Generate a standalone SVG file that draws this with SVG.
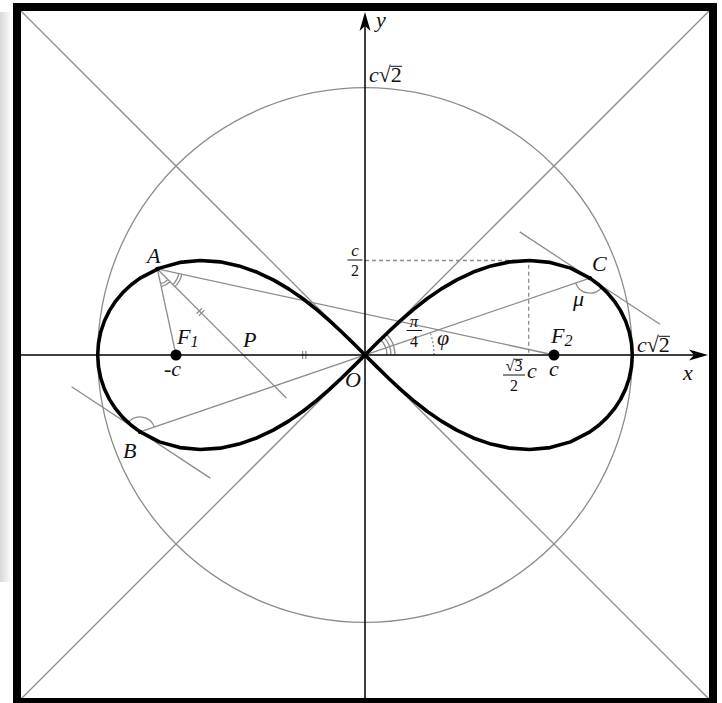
<svg xmlns="http://www.w3.org/2000/svg" width="722" height="703" viewBox="0 0 722 703">
<defs>
<style>
.g{fill:none;stroke:#8c8c8c;stroke-width:1.3}
.k{fill:none;stroke:#000;stroke-width:1.5}
.t{font-family:"Liberation Serif",serif;font-style:italic;font-size:22px;fill:#111}
.s{font-family:"Liberation Serif",serif;font-size:16px;fill:#111}
.m{font-family:"Liberation Serif",serif;font-style:italic;font-size:17px;fill:#111}
.v{stroke:#111;stroke-width:1;fill:none}
</style>
<linearGradient id="sh" x1="0" y1="0" x2="1" y2="0">
<stop offset="0" stop-color="#d8d8d8"/><stop offset="1" stop-color="#ffffff"/>
</linearGradient>
</defs>
<rect width="722" height="703" fill="#fff"/>
<rect x="0" y="12" width="12" height="570" fill="url(#sh)"/>
<g id="guides">
<circle class="g" cx="365" cy="355" r="267.3"/>
<line class="g" x1="21" y1="11" x2="709" y2="699"/>
<line class="g" x1="709" y1="11" x2="21" y2="699"/>
<path class="g" stroke-dasharray="4,3" d="M365,260.5 H528.7 V355"/>
</g>
<g id="construction">
<line class="g" x1="157.34" y1="268.98" x2="176" y2="355"/>
<line class="g" x1="157.34" y1="268.98" x2="554" y2="355"/>
<line class="g" x1="157.34" y1="268.98" x2="286.35" y2="398"/>
<line class="g" x1="140.12" y1="431.91" x2="589.88" y2="278.09"/>
<line class="g" x1="71.6" y1="386.8" x2="210.3" y2="478.1"/>
<line class="g" x1="519.7" y1="231.9" x2="660" y2="324.3"/>
<path class="g" d="M167.95,279.59 A15,15 0 0 1 160.52,283.64 M170.07,281.71 A18,18 0 0 1 161.16,286.57"/>
<path class="g" d="M178.84,273.64 A22,22 0 0 1 172.9,284.54 M181.77,274.28 A25,25 0 0 1 175.02,286.66"/>
<path class="g" d="M196.6,313.7 L202.2,308.1 M198.8,315.9 L204.4,310.3"/>
<path class="g" d="M302.6,351 V359 M305.8,351 V359"/>
<path class="g" d="M387,355 A22,22 0 0 0 380.56,339.44 M391,355 A26,26 0 0 0 383.38,336.62 M395,355 A30,30 0 0 0 386.21,333.79"/>
<path class="g" stroke-dasharray="2,2" d="M434,355 A69,69 0 0 0 430.29,332.67"/>
<path class="g" d="M602.41,286.34 A15,15 0 0 1 575.69,282.94"/>
<path class="g" d="M127.59,423.66 A15,15 0 0 1 154.31,427.06"/>
</g>
<g id="axes">
<line class="k" x1="21" y1="355" x2="700" y2="355"/>
<line class="k" x1="365" y1="699" x2="365" y2="20"/>
<path d="M708,355 L689,349.5 L694,355 L689,360.5 Z" fill="#000"/>
<path d="M365,12 L359.5,31 L365,26 L370.5,31 Z" fill="#000"/>
</g>
<g id="lemniscate">
<path fill="none" stroke="#000" stroke-width="3.6" stroke-linejoin="round" d="M365,355 L376.69,343.35 388.56,331.79 400.79,320.43 413.55,309.38 427.02,298.79 441.37,288.86 456.75,279.84 473.28,272.05 491.01,265.90 509.90,261.86 529.76,260.50 550.19,262.40 570.55,268.13 589.88,278.09 598.79,284.70 606.98,292.37 614.29,301.04 620.53,310.63 625.57,320.99 629.28,331.97 631.54,343.37 632.30,355 631.54,366.63 629.28,378.03 625.57,389.01 620.53,399.37 614.29,408.96 606.98,417.63 598.79,425.30 589.88,431.91 570.55,441.87 550.19,447.60 529.76,449.50 509.90,448.14 491.01,444.10 473.28,437.95 456.75,430.16 441.37,421.14 427.02,411.21 413.55,400.62 400.79,389.57 388.56,378.21 376.69,366.65 365,355 353.31,343.35 341.44,331.79 329.21,320.43 316.45,309.38 302.98,298.79 288.63,288.86 273.25,279.84 256.72,272.05 238.99,265.90 220.10,261.86 200.24,260.50 179.81,262.40 159.45,268.13 140.12,278.09 131.21,284.70 123.02,292.37 115.71,301.04 109.47,310.63 104.43,320.99 100.72,331.97 98.46,343.37 97.70,355 98.46,366.63 100.72,378.03 104.43,389.01 109.47,399.37 115.71,408.96 123.02,417.63 131.21,425.30 140.12,431.91 159.45,441.87 179.81,447.60 200.24,449.50 220.10,448.14 238.99,444.10 256.72,437.95 273.25,430.16 288.63,421.14 302.98,411.21 316.45,400.62 329.21,389.57 341.44,378.21 353.31,366.65 Z"/>
</g>
<g id="points">
<circle cx="176" cy="355" r="5.5" fill="#000"/>
<circle cx="554" cy="355" r="5.5" fill="#000"/>
<circle cx="157.34" cy="268.98" r="2.2" fill="#000"/>
<circle cx="140.12" cy="431.91" r="2.2" fill="#000"/>
<circle cx="589.88" cy="278.09" r="2.2" fill="#000"/>
<circle cx="365" cy="355" r="2.2" fill="#000"/>
</g>
<g id="labels">
<text class="t" x="147" y="263">A</text>
<text class="t" x="123" y="458">B</text>
<text class="t" x="592" y="271">C</text>
<text class="t" x="243" y="347">P</text>
<text class="t" x="345" y="387">O</text>
<text class="t" x="683" y="380">x</text>
<text class="t" x="376" y="27">y</text>
<text class="t" x="177" y="344">F<tspan class="s" font-size="12" dy="3">1</tspan></text>
<text class="t" x="551" y="343">F<tspan class="s" font-size="12" dy="3">2</tspan></text>
<text class="t" x="164" y="376"><tspan font-style="normal">-</tspan>c</text>
<text class="t" x="549" y="376">c</text>
<text class="t" x="573" y="306">μ</text>
<text class="t" x="437" y="345">φ</text>
<text class="m" x="414" y="327" text-anchor="middle">π</text>
<line class="v" x1="406.5" y1="330.5" x2="422" y2="330.5"/>
<text class="s" x="414" y="347" text-anchor="middle">4</text>
<text class="m" x="355" y="256" text-anchor="middle" font-size="19">c</text>
<line class="v" x1="347.5" y1="260" x2="362.5" y2="260"/>
<text class="s" x="355" y="276" text-anchor="middle">2</text>
<text class="s" x="514" y="371" text-anchor="middle">√3</text>
<line class="v" x1="514.2" y1="359.3" x2="522.6" y2="359.3"/>
<line class="v" x1="503" y1="375" x2="525" y2="375"/>
<text class="s" x="514" y="391" text-anchor="middle">2</text>
<text class="t" x="527" y="378">c</text>
<text class="t" x="637" y="352">c<tspan font-style="normal">√2</tspan></text>
<line class="v" x1="658.6" y1="336.3" x2="670" y2="336.3"/>
<text class="t" x="369" y="82">c<tspan font-style="normal">√2</tspan></text>
<line class="v" x1="390.6" y1="66.3" x2="402" y2="66.3"/>
</g>
<rect x="17" y="7" width="696" height="695" fill="none" stroke="#000" stroke-width="8"/>
</svg>
